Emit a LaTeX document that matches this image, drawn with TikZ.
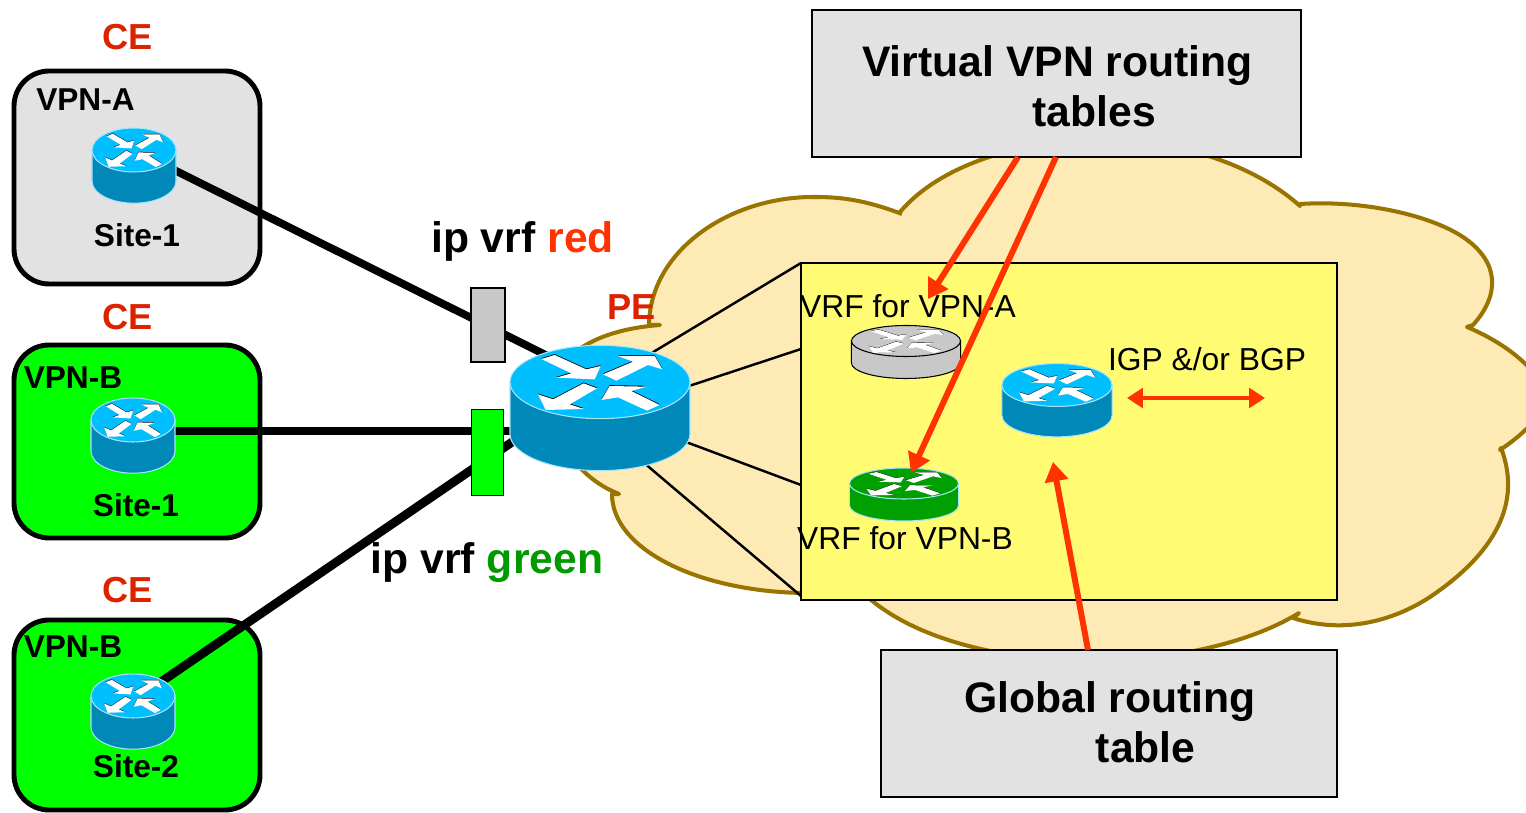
\documentclass[tikz,border=0pt]{standalone}
\usepackage{fontspec}
\setmainfont{Liberation Sans}
\usepackage{tikz}
\usetikzlibrary{arrows.meta}

\definecolor{cloudfill}{HTML}{FEEAB5}
\definecolor{cloudedge}{HTML}{9A7400}
\definecolor{vrfyellow}{HTML}{FFFB73}
\definecolor{boxgray}{HTML}{E2E2E2}
\definecolor{routergray}{HTML}{C8C8C8}
\definecolor{routertop}{HTML}{00BFFF}
\definecolor{routerside}{HTML}{0088B8}
\definecolor{routeredge}{HTML}{A8E4F8}
\definecolor{routergreen}{HTML}{00A000}
\definecolor{tagred}{HTML}{DD2200}
\definecolor{arrowred}{HTML}{FF3300}
\definecolor{vrfgreen}{HTML}{009900}

\tikzset{
  ceframe/.style={draw=black,line width=2.8pt,rounded corners=20pt},
  tablebox/.style={draw=black,line width=1.4pt,fill=boxgray},
  trunk/.style={line width=4.4pt,black},
  fanline/.style={line width=1.4pt,black},
  feed/.style={line width=3.4pt,arrowred,-{Triangle[length=11pt,width=13pt]}},
  exchange/.style={line width=2.6pt,arrowred,{Triangle[length=9pt,width=11pt]}-{Triangle[length=9pt,width=11pt]}},
  cetext/.style={font=\fontsize{20.6}{24}\selectfont\bfseries,text=tagred,anchor=base},
  sitetext/.style={font=\fontsize{18}{22}\selectfont\bfseries,anchor=base},
  vrftext/.style={font=\fontsize{24.3}{29}\selectfont\bfseries,anchor=base},
  tabletext/.style={font=\fontsize{24.3}{28.7}\selectfont\bfseries,align=left},
  plaintext/.style={font=\fontsize{18.1}{22}\selectfont,anchor=base}
}

% #1 x, #2 y, #3 xscale, #4 yscale, #5 top colour, #6 side colour, #7 edge colour
\newcommand{\router}[7]{
\begin{scope}[shift={(#1,#2)},xscale=#3,yscale=#4]
\draw[fill=#6,draw=#7,line width=0.6pt] (-270,0) -- (-270,156) arc[start angle=180,end angle=0,x radius=270,y radius=110] -- (270,0) -- cycle;
\draw[fill=#5,draw=#7,line width=0.6pt] (0,0) ellipse[x radius=270,y radius=110];
% arrows, shadow first
\foreach \dy/\tint in {-2.5/black,0/white}{
\fill[\tint] (-176,\dy-69) -- (-136,\dy-81) -- (-41,\dy-38) -- (2,\dy-48) -- (-16,\dy-8) -- (-131,\dy-13) -- (-86,\dy-26) -- cycle;
\fill[\tint] (9,\dy-23) -- (99,\dy-61) -- (54,\dy-78) -- (164,\dy-78) -- (187,\dy-38) -- (144,\dy-51) -- (49,\dy-4) -- cycle;
\fill[\tint] (-9,\dy+19) -- (-49,\dy+4) -- (-141,\dy+52) -- (-186,\dy+37) -- (-163,\dy+84) -- (-48,\dy+81) -- (-91,\dy+67) -- cycle;
\fill[\tint] (179,\dy+69) -- (141,\dy+86) -- (54,\dy+46) -- (4,\dy+54) -- (29,\dy+12) -- (139,\dy+14) -- (94,\dy+27) -- cycle;
}
\end{scope}
}

\begin{document}
\begin{tikzpicture}[x=0.02cm,y=-0.02cm]
\clip (0,0) rectangle (1526,813);

% Cloud
\draw[fill=cloudfill,draw=cloudedge,line width=2.3pt,line join=round]
  (902,214) .. controls (860,198) and (835,197) .. (813,197) .. controls (730,197) and (650,250) .. (649,325)
  -- (660,325) .. controls (620,328) and (575,340) .. (555,375) .. controls (540,420) and (570,475) .. (619,494)
  -- (612,494) .. controls (612,550) and (700,592) .. (805,593)
  -- (860,590) .. controls (950,680) and (1190,680) .. (1299,613)
  -- (1293,618) .. controls (1345,635) and (1395,620) .. (1430,597) .. controls (1485,560) and (1525,510) .. (1501,448)
  -- (1500,450) .. controls (1530,430) and (1545,410) .. (1545,400) .. controls (1545,375) and (1510,345) .. (1467,327)
  -- (1473,325) .. controls (1500,295) and (1500,262) .. (1463,237) .. controls (1428,214) and (1360,200) .. (1300,204)
  -- (1300,206) .. controls (1260,170) and (1190,140) .. (1100,140) .. controls (1020,140) and (940,165) .. (900,212);

% Yellow box
\draw[fill=vrfyellow,line width=1.4pt] (801,263) rectangle (1337,600);
\coordinate (vrfa) at (801,263);
\coordinate (vrfb) at (801,349);
\coordinate (vrfc) at (801,485);
\coordinate (vrfd) at (801,596);

% Customer sites
\draw[ceframe,fill=boxgray] (14,71) rectangle (260,284);
\draw[ceframe,fill=green] (14,345) rectangle (260,538);
\draw[ceframe,fill=green] (14,620) rectangle (260,810);

% Router positions
\coordinate (pe) at (600,382);
\coordinate (sitea) at (134,150);
\coordinate (siteb) at (133,431);
\coordinate (sitec) at (133,701);
\coordinate (pea) at (650,354);
\coordinate (peb) at (680,389);
\coordinate (pec) at (670,436);
\coordinate (ped) at (630,451);

% Links to the PE
\draw[trunk] (sitea) -- (pe);
\draw[trunk] (siteb) -- (siteb -| pe);
\draw[trunk,line width=5pt] (sitec) -- (pe);
\draw[fanline] (pea) -- (vrfa);
\draw[fanline] (peb) -- (vrfb);
\draw[fanline] (pec) -- (vrfc);
\draw[fanline] (ped) -- (vrfd);

% Interfaces
\draw[line width=1.3pt,fill=routergray] (471,288) rectangle (505,362);
\draw[line width=0.5pt,fill=green] (471,409) rectangle (503,495);

% Routers
\router{134}{150}{0.1556}{0.2}{routertop}{routerside}{routeredge}
\router{133}{420}{0.1556}{0.2}{routertop}{routerside}{routeredge}
\router{133}{696}{0.1556}{0.2}{routertop}{routerside}{routeredge}
\router{600}{382}{0.3333}{0.3333}{routertop}{routerside}{routeredge}
\router{906}{341}{0.202}{0.141}{routergray}{routergray}{black}
\router{904}{483.5}{0.202}{0.141}{routergreen}{routergreen}{routeredge}
\router{1057}{385}{0.204}{0.195}{routertop}{routerside}{routeredge}

% Table boxes
\draw[tablebox] (812,10) rectangle (1301,157);
\draw[tablebox] (881,650) rectangle (1337,797);
\draw (1057.5,86.5) node[tabletext] (vpntables) {Virtual VPN routing\\\hspace*{97pt}tables};
\draw (1110,722.5) node[tabletext] (globaltable) {Global routing\\\hspace*{75pt}table};

% Labels
\draw (128,50) node[cetext] (cea) {CE};
\draw (128,330) node[cetext] (ceb) {CE};
\draw (128,603) node[cetext] (cec) {CE};
\draw (631.5,319.5) node[cetext] (petext) {PE};
\draw (85.5,111) node[sitetext] (vpna) {VPN-A};
\draw (73,389) node[sitetext] (vpnb) {VPN-B};
\draw (73,658) node[sitetext] (vpnc) {VPN-B};
\draw (137,247) node[sitetext] (sitealabel) {Site-1};
\draw (136,517) node[sitetext] (siteblabel) {Site-1};
\draw (136,778) node[sitetext] (siteclabel) {Site-2};
\draw (522.5,253) node[vrftext] (vrfred) {ip vrf \textcolor{arrowred}{red}};
\draw (487,574) node[vrftext] (vrfgreentext) {ip vrf \textcolor{vrfgreen}{green}};
\draw (908,318) node[plaintext] (vrfalabel) {VRF for VPN-A};
\draw (905,550) node[plaintext] (vrfblabel) {VRF for VPN-B};
\draw (1207,371) node[plaintext] (igplabel) {IGP \&/or BGP};

% Red arrows
\coordinate (vpnfoota) at (1018,157);
\coordinate (vpnfootb) at (1056,157);
\coordinate (globalhead) at (1088,650);
\coordinate (tipa) at (928,299);
\coordinate (tipb) at (911,473);
\coordinate (tipc) at (1053,462);
\coordinate (igpleft) at (1127,398);
\coordinate (igpright) at (1265,398);
\draw[feed] (vpnfoota) -- (tipa);
\draw[feed] (vpnfootb) -- (tipb);
\draw[feed] (globalhead) -- (tipc);
\draw[exchange] (igpleft) -- (igpright);
\end{tikzpicture}
\end{document}
